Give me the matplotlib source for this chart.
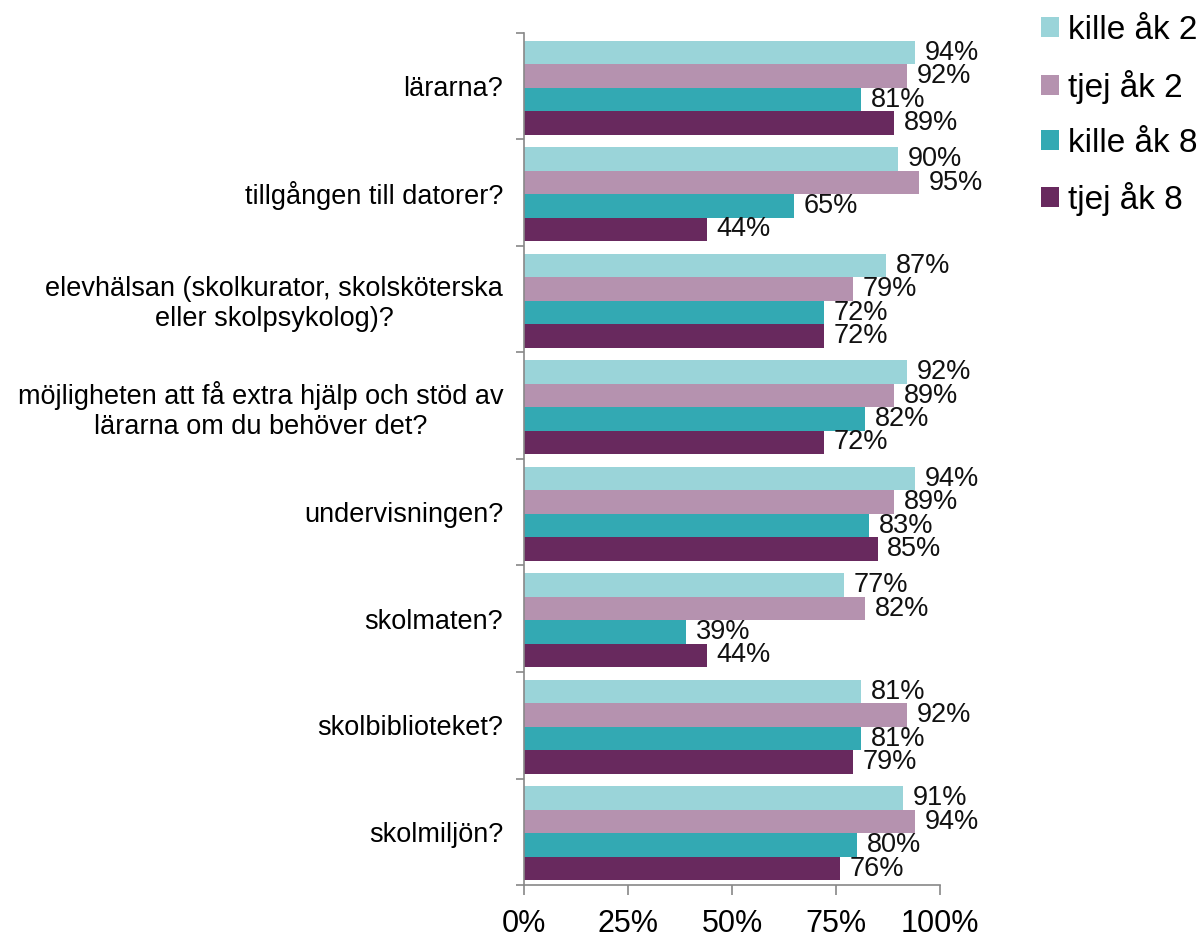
import matplotlib
matplotlib.use("Agg")
import matplotlib.pyplot as plt
import numpy as np

plt.rcParams["font.family"] = ["Liberation Sans", "DejaVu Sans"]

categories = [
    "lärarna?",
    "tillgången till datorer?",
    "elevhälsan (skolkurator, skolsköterska\neller skolpsykolog)?",
    "möjligheten att få extra hjälp och stöd av\nlärarna om du behöver det?",
    "undervisningen?",
    "skolmaten?",
    "skolbiblioteket?",
    "skolmiljön?",
]
series_names = ["kille åk 2", "tjej åk 2", "kille åk 8", "tjej åk 8"]
kille_ak2 = [94, 90, 87, 92, 94, 77, 81, 91]
tjej_ak2 = [92, 95, 79, 89, 89, 82, 92, 94]
kille_ak8 = [81, 65, 72, 82, 83, 39, 81, 80]
tjej_ak8 = [89, 44, 72, 72, 85, 44, 79, 76]
x_ticks = [0, 25, 50, 75, 100]

colors = ["#9AD4D9", "#B592AF", "#33A9B3", "#68295E"]
series = [kille_ak2, tjej_ak2, kille_ak8, tjej_ak8]

fig = plt.figure(figsize=(12.02, 9.41), dpi=100)
ax = fig.add_axes([0.436, 0.0595, 0.346, 0.9055])

y = np.arange(len(categories))
h = 0.22
offsets = [-1.5 * h, -0.5 * h, 0.5 * h, 1.5 * h]
handles = []
for vals, name, col, off in zip(series, series_names, colors, offsets):
    bars = ax.barh(y + off + 0.015, vals, height=h, color=col, label=name)
    handles.append(bars)
    for yy, v in zip(y + off + 0.015, vals):
        ax.annotate(f"{v}%", (v, yy), xytext=(7, 0), textcoords="offset points",
                    va="center", ha="left", fontsize=19.5, color="#111111")

ax.set_xlim(0, 100)
ax.set_ylim(len(categories) - 0.5, -0.5)
ax.set_xticks(x_ticks)
ax.set_xticklabels([f"{t}%" for t in x_ticks], fontsize=22)
ax.set_yticks(y)
ax.set_yticklabels(categories, fontsize=19.5, multialignment="center")
ax.set_yticks(np.arange(len(categories) + 1) - 0.5, minor=True)
ax.tick_params(axis="y", which="major", length=0, pad=15)
ax.tick_params(axis="y", which="minor", length=6, color="#888888", width=1.2)
ax.tick_params(axis="x", which="major", length=7, color="#888888", width=1.2, pad=10)

for s in ["top", "right"]:
    ax.spines[s].set_visible(False)
for s in ["left", "bottom"]:
    ax.spines[s].set_color("#888888")
    ax.spines[s].set_linewidth(1.2)

fig.legend(handles=handles, labels=series_names, loc="upper left",
           bbox_to_anchor=(0.855, 0.998), frameon=False, fontsize=24,
           handlelength=0.55, handleheight=0.55, handletextpad=0.25,
           labelspacing=0.71, borderaxespad=0)

fig.savefig("out.png", dpi=100)
